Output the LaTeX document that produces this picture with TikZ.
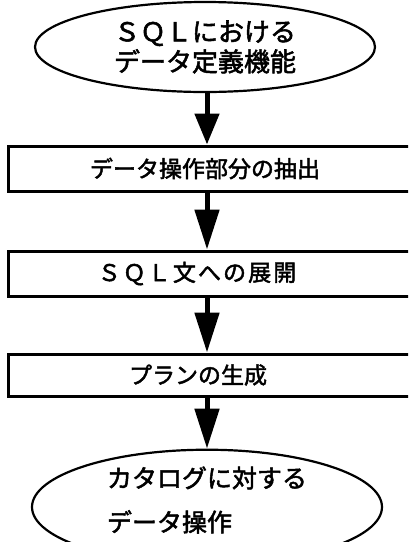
\documentclass[tikz,border=0pt]{standalone}
\usepackage{fontspec}
\usetikzlibrary{shapes.geometric,arrows.meta}
\newfontfamily\jpa[FakeBold=2]{Noto Sans CJK JP}
\newfontfamily\jpc[FakeBold=2,LetterSpace=9]{Noto Sans CJK JP}
\tikzset{
  oval/.style={ellipse, draw=black, line width=2.2pt, inner sep=0pt},
  stepbox/.style={rectangle, draw=black, line width=3pt, inner sep=0pt,
    minimum width=422pt, font=\jpa\fontsize{23}{26}\selectfont},
  flow/.style={line width=5pt, -{Triangle[length=40pt,width=24pt]}},
}
\begin{document}
\begin{tikzpicture}[x=1pt,y=-1pt]
\clip (0,0) rectangle (408,542);
\node[oval, minimum width=340pt, minimum height=90pt, align=center,
  font=\jpa\fontsize{26}{30}\selectfont] (e1) at (205,47)
  {ＳＱＬにおける\\データ定義機能};
\node[stepbox, minimum height=45pt] (b1) at (219,168.5)
  {データ操作部分の抽出\hspace*{28pt}};
\node[stepbox, minimum height=45pt, font=\jpc\fontsize{23}{26}\selectfont] (b2) at (219,273.5)
  {ＳＱＬ文への展開\hspace*{44pt}};
\node[stepbox, minimum height=42pt] (b3) at (219,375)
  {プランの生成\hspace*{42pt}};
\node[oval, minimum width=350pt, minimum height=100pt, align=left,
  font=\jpa\fontsize{25}{44}\selectfont] (e2) at (207,507)
  {カタログに対する\\データ操作\rule[-16pt]{0pt}{0pt}};
\coordinate (ax) at (207,0);
\draw[flow, -{Triangle[length=31pt,width=24pt]}] (e1.south -| ax) -- (b1.north -| ax);
\draw[flow] (b1.south -| ax) -- (b2.north -| ax);
\draw[flow] (b2.south -| ax) -- (b3.north -| ax);
\draw[flow] (b3.south -| ax) -- (e2.north -| ax);
\end{tikzpicture}
\end{document}
